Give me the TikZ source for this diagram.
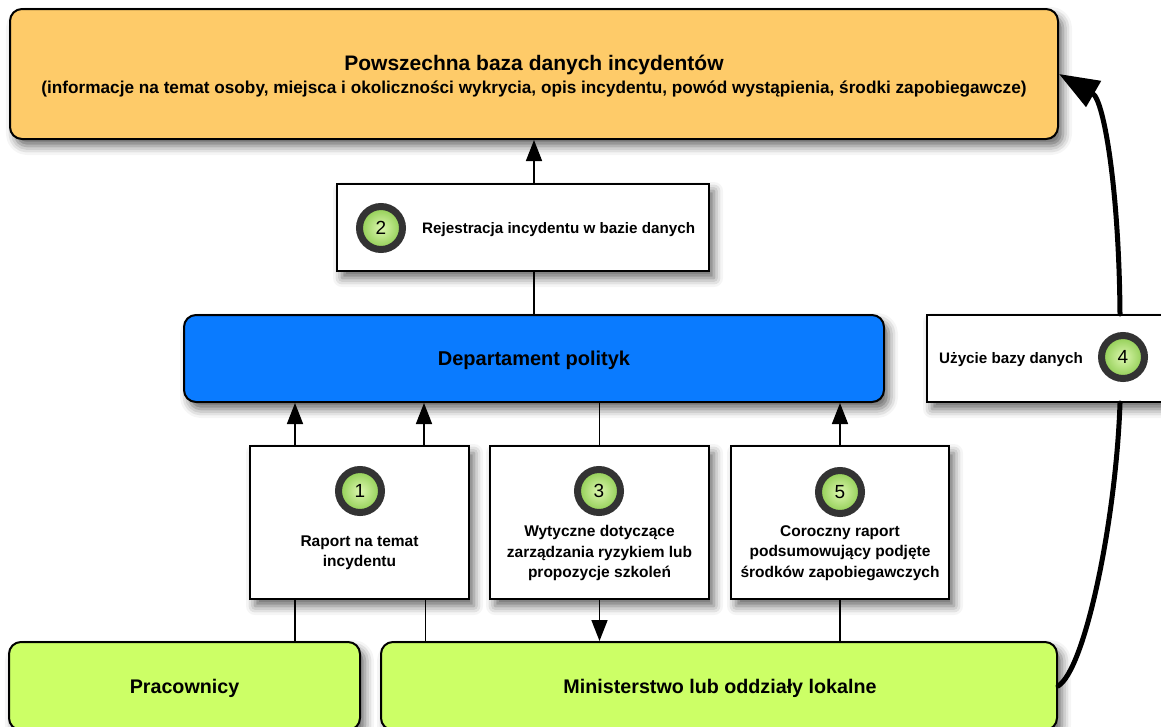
\documentclass[tikz,border=0pt]{standalone}
\usepackage{fontspec}
\setmainfont{Liberation Sans}
\usetikzlibrary{arrows.meta,shadows.blur}
\definecolor{orangebox}{HTML}{FECB69}
\definecolor{bluebox}{HTML}{0A7BFF}
\definecolor{greenbox}{HTML}{CCFF66}
\definecolor{ringc}{HTML}{333333}
\definecolor{ballin}{HTML}{DDF7B0}
\definecolor{ballout}{HTML}{8CCB4E}
\begin{document}
\begin{tikzpicture}[x=1pt,y=-1pt,
  box/.style={draw=black, line width=2pt, inner sep=0pt,
    blur shadow={shadow xshift=5pt, shadow yshift=-7pt, shadow blur radius=9pt, shadow opacity=60}},
  rbox/.style={box, rounded corners=12pt},
  wbox/.style={box, fill=white},
  ball/.style={circle, draw=ringc, line width=7pt, inner color=ballin, outer color=ballout,
    minimum size=43pt, inner sep=0pt, font=\fontsize{19}{19}\selectfont},
  txt/.style={inner sep=0pt, font=\fontsize{15.5}{20.5}\selectfont\bfseries},
  stxt/.style={inner sep=0pt, font=\fontsize{15.2}{20}\selectfont\bfseries},
  bigtxt/.style={inner sep=0pt, font=\fontsize{19.7}{22}\selectfont\bfseries},
  conn/.style={line width=1.6pt},
  arr/.style={conn, -{Triangle[length=21pt,width=16pt]}},
  bigline/.style={line width=5pt, line cap=round}]
\useasboundingbox (0,0) rectangle (1161,726);
% boxes
\node[rbox, fill=orangebox, minimum width=1048pt, minimum height=130pt] (orange) at (534,74) {};
\node[wbox, minimum width=372pt, minimum height=87pt] (box2) at (523,227.5) {};
\node[rbox, fill=bluebox, minimum width=700pt, minimum height=87pt] (blue) at (534,358.5) {};
\node[wbox, minimum width=219pt, minimum height=153pt] (box1) at (359.5,522.5) {};
\node[wbox, minimum width=219pt, minimum height=153pt] (box3) at (599.5,522.5) {};
\node[wbox, minimum width=218pt, minimum height=153pt] (box5) at (840,522.5) {};
\node[rbox, fill=greenbox, minimum width=351pt, minimum height=88pt] (prac) at (184.5,686) {};
\node[rbox, fill=greenbox, minimum width=676pt, minimum height=88pt] (minist) at (719,686) {};
\node[wbox, minimum width=386pt, minimum height=87pt] (box4) at (1120,358.5) {};
% texts
\node[inner sep=0pt, anchor=base, font=\fontsize{21}{24}\selectfont\bfseries] (title) at (534,70) {Powszechna baza danych incydentów};
\node[inner sep=0pt, anchor=base, font=\fontsize{17.2}{20}\selectfont\bfseries] (subtitle) at (534,93) {(informacje na temat osoby, miejsca i okoliczności wykrycia, opis incydentu, powód wystąpienia, środki zapobiegawcze)};
\node[ball] (n2) at (381,228) {2};
\node[stxt, anchor=base west] (t2) at (422,233) {Rejestracja incydentu w bazie danych};
\node[inner sep=0pt, anchor=base, font=\fontsize{20}{22}\selectfont\bfseries] (tblue) at (534,365) {Departament polityk};
\node[ball] (n1) at (360,491) {1};
\node[txt, align=center] (t1) at (359.5,553) {Raport na temat\\incydentu};
\node[ball] (n3) at (599,491) {3};
\node[txt, align=center] (t3) at (599.5,553) {Wytyczne dotyczące\\zarządzania ryzykiem lub\\propozycje szkoleń};
\node[ball] (n5) at (840,492) {5};
\node[txt, align=center] (t5) at (840,553) {Coroczny raport\\podsumowujący podjęte\\środków zapobiegawczych};
\node[ball] (n4) at (1123,357) {4};
\node[stxt, anchor=base west] (t4) at (939,363) {Użycie bazy danych};
\node[bigtxt, anchor=base] (tprac) at (184.5,693) {Pracownicy};
\node[bigtxt, anchor=base] (tmin) at (720,693) {Ministerstwo lub oddziały lokalne};
% connectors
\draw[arr] (orange.south |- box2.north) -- (orange.south);
\draw[conn] (blue.north |- box2.south) -- (blue.north);
\draw[arr] ([xshift=-64.5pt]box1.north) -- ([xshift=-64.5pt]box1.north |- blue.south);
\draw[arr] ([xshift=64.5pt]box1.north) -- ([xshift=64.5pt]box1.north |- blue.south);
\draw[conn] (box3.north |- blue.south) -- (box3.north);
\draw[arr] (box5.north) -- (box5.north |- blue.south);
\draw[conn] ([xshift=-64.5pt]box1.south) -- ([xshift=-64.5pt]box1.south |- prac.north);
\draw[conn] ([xshift=66pt]box1.south) -- ([xshift=66pt]box1.south |- minist.north);
\draw[arr] (box3.south) -- (box3.south |- minist.north);
\draw[conn] (box5.south) -- (box5.south |- minist.north);
\draw[bigline] (minist.east) .. controls (1085,670) and (1116,520) .. (box4.south);
\draw[bigline, -{Triangle[length=40pt,width=29pt]}] (box4.north) .. controls (1119,190) and (1104,100) .. (orange.east);
\end{tikzpicture}
\end{document}
